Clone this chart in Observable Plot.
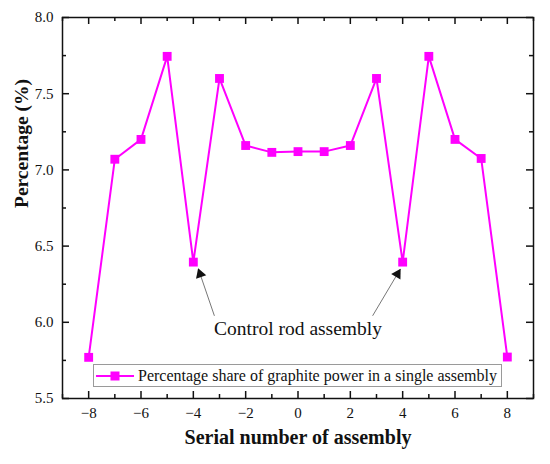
<!DOCTYPE html>
<html>
<head>
<meta charset="utf-8">
<script src="https://cdn.jsdelivr.net/npm/d3@7"></script>
<script src="https://cdn.jsdelivr.net/npm/@observablehq/plot@0.6"></script>
<style>
  html, body { margin: 0; padding: 0; background: #fff; }
  #wrap { position: relative; width: 550px; height: 464px; }
  #wrap svg text { font-family: 'Liberation Serif', 'Times New Roman', serif; }
  #legend {
    position: absolute; left: 93px; top: 364px; width: 409px; height: 23px;
    border: 1px solid #9a9a9a; background: #fff; box-sizing: border-box;
    display: flex; align-items: center; white-space: nowrap;
    font-family: 'Liberation Serif', 'Times New Roman', serif; font-size: 16px; color: #111;
  }
  #legend svg { margin-left: 1px; margin-right: 3px; }
</style>
</head>
<body>
<div id="wrap"></div>
<script>
// Data
const serial = [-8, -7, -6, -5, -4, -3, -2, -1, 0, 1, 2, 3, 4, 5, 6, 7, 8];
const percentage = [5.77, 7.07, 7.20, 7.745, 6.395, 7.60, 7.16, 7.115, 7.12, 7.12, 7.16, 7.60, 6.395, 7.745, 7.20, 7.075, 5.772];
const seriesName = "Percentage share of graphite power in a single assembly";

// Axis ticks
const xMajorTicks = [-8, -6, -4, -2, 0, 2, 4, 6, 8];
const xMinorTicks = [-9, -7, -5, -3, -1, 1, 3, 5, 7, 9];
const yMajorTicks = [5.5, 6.0, 6.5, 7.0, 7.5, 8.0];
const yMinorTicks = [5.75, 6.25, 6.75, 7.25, 7.75];

// Annotation
const annotationText = "Control rod assembly";
const annotationPos = [{x: 0, y: 5.96}];
const arrowTailX = [-3.20, 2.86];
const arrowTailY = [6.045, 6.045];
const arrowTipX = [-3.80, 3.90];
const arrowTipY = [6.346, 6.346];
const arrowHeadX = [-3.74, 3.80];
const arrowHeadY = [6.316, 6.316];
const arrowHeadRotate = [-19, 31];

const data = serial.map((s, i) => ({x: s, y: percentage[i]}));
const arrows = arrowTailX.map((_, i) => ({x1: arrowTailX[i], y1: arrowTailY[i], x2: arrowTipX[i], y2: arrowTipY[i]}));
const heads = arrowHeadX.map((_, i) => ({x: arrowHeadX[i], y: arrowHeadY[i], r: arrowHeadRotate[i]}));

const W = 550, H = 464, mL = 62, mR = 17, mT = 17, mB = 66;
const plotH = H - mT - mB, plotW = W - mL - mR;
const font = "'Liberation Serif', 'Times New Roman', serif";
const magenta = "#ff00ff";

const chart = Plot.plot({
  width: W, height: H,
  marginLeft: mL, marginRight: mR, marginTop: mT, marginBottom: mB,
  style: {fontFamily: font, fontSize: "15px", color: "#111", background: "#fff"},
  x: {domain: [-9, 9]},
  y: {domain: [5.5, 8.0]},
  marks: [
    Plot.axisX(xMajorTicks, {tickSize: 0, tickPadding: 9, label: null, fontSize: 15}),
    Plot.axisY(yMajorTicks, {tickSize: 0, tickPadding: 9, label: null, fontSize: 15, tickFormat: d3.format(".1f")}),
    // inward ticks: bottom & top
    Plot.tickX(xMajorTicks, {x: d => d, insetTop: plotH - 7, stroke: "#111", strokeWidth: 1.5}),
    Plot.tickX(xMinorTicks, {x: d => d, insetTop: plotH - 4, stroke: "#111", strokeWidth: 1.5}),
    Plot.tickX(xMajorTicks, {x: d => d, insetBottom: plotH - 7, stroke: "#111", strokeWidth: 1.5}),
    Plot.tickX(xMinorTicks, {x: d => d, insetBottom: plotH - 4, stroke: "#111", strokeWidth: 1.5}),
    // inward ticks: left & right
    Plot.tickY(yMajorTicks, {y: d => d, insetRight: plotW - 7, stroke: "#111", strokeWidth: 1.5}),
    Plot.tickY(yMinorTicks, {y: d => d, insetRight: plotW - 4, stroke: "#111", strokeWidth: 1.5}),
    Plot.tickY(yMajorTicks, {y: d => d, insetLeft: plotW - 7, stroke: "#111", strokeWidth: 1.5}),
    Plot.tickY(yMinorTicks, {y: d => d, insetLeft: plotW - 4, stroke: "#111", strokeWidth: 1.5}),
    Plot.frame({stroke: "#111", strokeWidth: 1.5}),
    // series
    Plot.line(data, {x: "x", y: "y", stroke: magenta, strokeWidth: 2}),
    Plot.dot(data, {x: "x", y: "y", symbol: "square", r: 5, fill: magenta, stroke: "none"}),
    // annotation
    Plot.arrow(arrows, {x1: "x1", y1: "y1", x2: "x2", y2: "y2", stroke: "#777", strokeWidth: 1, headLength: 0}),
    Plot.dot(heads, {x: "x", y: "y", rotate: "r", symbol: "triangle", r: 4, fill: "#111", stroke: "none"}),
    Plot.text(annotationPos, {x: "x", y: "y", text: () => annotationText, fontSize: 19.5, textAnchor: "middle", fill: "#111"}),
    // axis titles
    Plot.text(["Serial number of assembly"], {frameAnchor: "bottom", dy: 45, fontSize: 20, fontWeight: "bold", fill: "#111"}),
    Plot.text(["Percentage (%)"], {frameAnchor: "left", dx: -41, rotate: -90, fontSize: 19.5, fontWeight: "bold", fill: "#111"})
  ]
});

const wrap = document.getElementById("wrap");
wrap.appendChild(chart);

// Legend
const legend = document.createElement("div");
legend.id = "legend";
legend.innerHTML = `<svg width="40" height="12"><line x1="1" y1="6" x2="39" y2="6" stroke="${magenta}" stroke-width="2"/><rect x="15.5" y="1.5" width="9" height="9" fill="${magenta}"/></svg><span>${seriesName}</span>`;
wrap.appendChild(legend);
</script>
</body>
</html>
